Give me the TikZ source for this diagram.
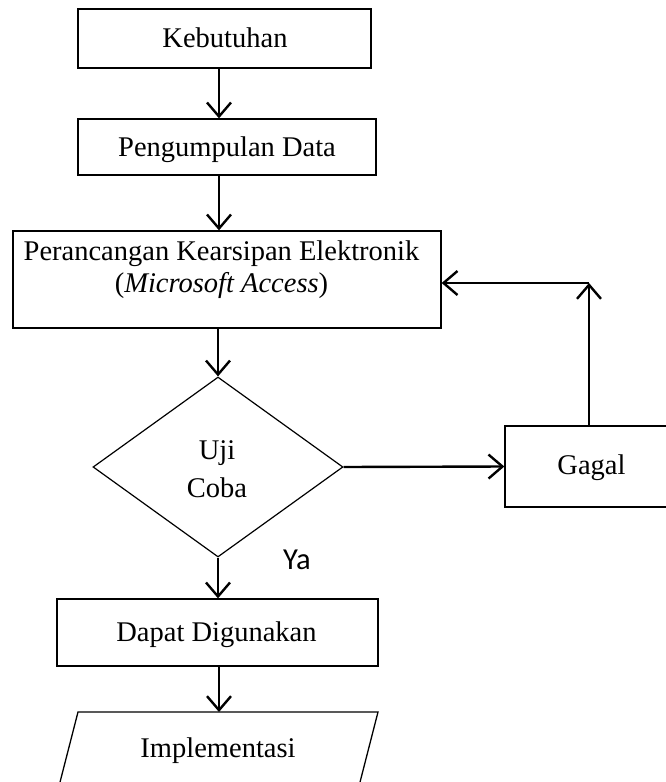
\documentclass[tikz,border=0pt]{standalone}
\usepackage{fontspec}
\setmainfont{Liberation Serif}
\newfontfamily\yafont{Carlito}
\usetikzlibrary{arrows.meta,shapes.geometric}
\begin{document}
\begin{tikzpicture}[x=1pt,y=-1pt,
  box/.style={draw, line width=1.3pt, rectangle, inner sep=0pt},
  decbox/.style={draw, diamond, line width=1.2pt, inner sep=0pt, minimum width=250pt, minimum height=180pt, aspect=1.39},
  txt/.style={anchor=base, inner sep=0pt, font=\fontsize{28.5}{32}\selectfont},
  arr/.style={line width=2.4pt, -{Straight Barb[length=14pt,width=24pt]}}]
\useasboundingbox (0,0) rectangle (666,782);
\clip (0,0) rectangle (666,782);

% shapes
\node[box, minimum width=293pt, minimum height=59pt] (keb) at (224.5,38.5) {};
\node[box, minimum width=298pt, minimum height=56pt] (peng) at (227,147) {};
\node[box, minimum width=428pt, minimum height=97pt] (per) at (227,279.5) {};
\node[decbox] (uji) at (218,467) {};
\node[box, minimum width=174pt, minimum height=81pt] (gagal) at (592,466.5) {};
\node[box, minimum width=321pt, minimum height=67pt] (dap) at (217.5,632.5) {};
\draw[line width=1.3pt] (78,712) -- (378,712) -- (358.5,788) -- (58.5,788) -- cycle;

% texts
\node[txt] (kebt) at (225,47.7) {Kebutuhan};
\node[txt] (pengt) at (227,156.7) {Pengumpulan Data};
\node[txt] (pert1) at (221.5,260) {Perancangan Kearsipan Elektronik};
\node[txt] (pert2) at (221.5,292) {(\textit{Microsoft Access})};
\node[txt] (ujit1) at (217,459) {Uji};
\node[txt] (ujit2) at (217,497) {Coba};
\node[txt] (gagalt) at (591.5,474) {Gagal};
\node[txt] (dapt) at (216.5,641) {Dapat Digunakan};
\node[txt] (impl) at (218,757) {Implementasi};
\node[anchor=base west, inner sep=0pt, font=\yafont\fontsize{30.5}{34}\selectfont] (ya) at (283,569) {Ya};

% connectors
\coordinate (ax) at (219,0);
\coordinate (imptop) at (219,712);
\coordinate (fb) at (589,283);
\draw[arr] (keb.south -| ax) -- (peng.north -| ax);
\draw[arr] (peng.south -| ax) -- (per.north -| ax);
\draw[arr] (per.south -| uji.north) -- (uji.north);
\draw[arr] (uji.south) -- (dap.north -| uji.south);
\draw[arr] (dap.south -| ax) -- (imptop);
\draw[arr] (uji.east) -- (gagal.west);
\draw[arr] (gagal.north -| fb) -- (fb);
\draw[arr] (fb) -- (per.east |- fb);
\end{tikzpicture}
\end{document}
